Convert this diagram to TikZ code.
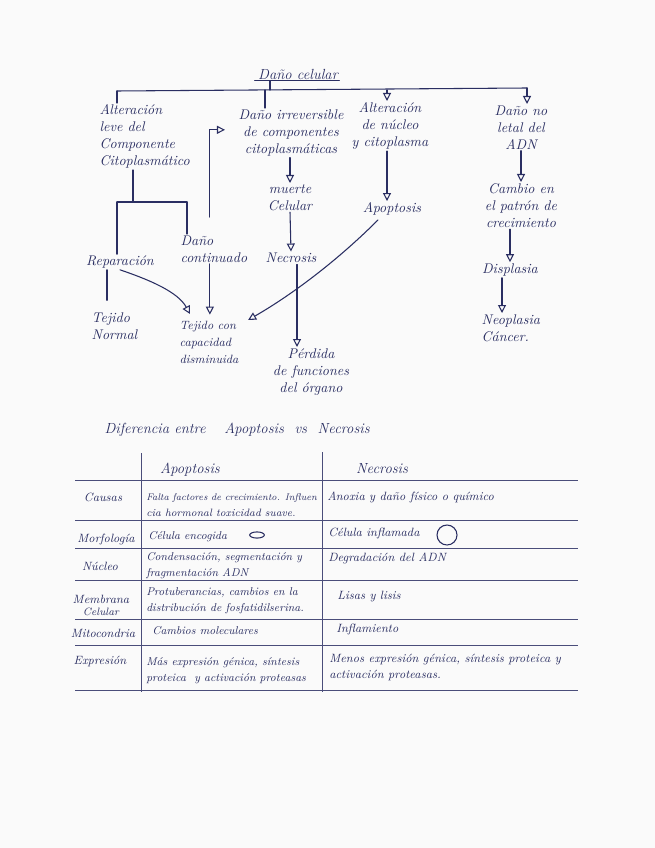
\documentclass[tikz,border=0pt]{standalone}
\usepackage{graphicx}
\usetikzlibrary{arrows.meta}
\definecolor{ink}{RGB}{42,46,98}
\definecolor{paper}{RGB}{250,250,250}
\tikzset{
  ln/.style={draw=ink, line width=0.8pt, line cap=round, line join=round},
  arr/.style={ln, -{Triangle[open, length=6pt, width=6pt, line width=0.8pt]}},
  hw/.style={text=ink, font=\itshape\fontsize{10.5}{12.75}\selectfont, inner sep=1pt, align=center},
  hwsm/.style={hw, font=\itshape\fontsize{9}{12.75}\selectfont},
  cellA/.style={text=ink, font=\itshape\fontsize{8.5}{12}\selectfont, inner sep=0pt, anchor=west, align=left},
  cellN/.style={cellA, font=\itshape\fontsize{9}{12}\selectfont},
  rowlab/.style={text=ink, font=\itshape\fontsize{9}{9}\selectfont, inner sep=0pt, align=center},
  tline/.style={draw=ink!85, line width=0.6pt},
}
\begin{document}
\begin{tikzpicture}[x=0.75pt,y=-0.75pt]
\fill[paper] (0,0) rectangle (655,848);
\useasboundingbox (0,0) rectangle (655,848);

% ---------- diagram ----------
\node[hw, font=\itshape\fontsize{11}{13}\selectfont] (title) at (298,74) {Daño celular};
\draw[ln] ([shift={(-2,0)}]title.south west) -- (title.south east);
\coordinate (stem) at (270,90);
\coordinate (bl) at (117,91);
\coordinate (br) at (527,88);
\coordinate (b2) at (265,90);
\coordinate (b3) at (387,90);
\draw[ln] (title.south -| stem) -- (stem);
\draw[ln] (bl) -- (br);

\node[hw, align=left, anchor=north west] (n1) at (98,103) {Alteración\\leve del\\Componente\\Citoplasmático};
\node[hw, anchor=north] (n2) at (291,108) {Daño irreversible\\de componentes\\citoplasmáticas};
\node[hw, anchor=north] (n3) at (390,101) {Alteración\\de núcleo\\y citoplasma};
\node[hw, anchor=north] (n4) at (521,104) {Daño no\\letal del\\ADN};
\draw[ln] (bl) -- (bl |- n1.north);
\draw[ln] (b2) -- (b2 |- n2.north);
\draw[arr] (b3) -- (b3 |- n3.north);
\draw[arr] (br) -- (br |- n4.north);

% central column
\node[hw, anchor=north] (muerte) at (290,183) {muerte\\Celular};
\node[hw] (necro) at (291,258) {Necrosis};
\node[hw, anchor=north] (perd) at (311,347) {Pérdida\\de funciones\\del órgano};
\draw[arr] (n2.south -| muerte) -- (muerte.north);
\draw[arr] (muerte.south) -- (necro.north);
\draw[arr] ([shift={(6,0)}]necro.south) -- ([shift={(6,0)}]necro.south |- perd.north);

% apoptosis column
\node[hw] (apop) at (392,209) {Apoptosis};
\draw[arr] ([shift={(-3,0)}]n3.south) -- ([shift={(-3,0)}]n3.south |- apop.north);

% right column
\node[hw, anchor=north] (cambio) at (521,182) {Cambio en\\el patrón de\\crecimiento};
\node[hw] (displ) at (510,270) {Displasia};
\node[hw, align=left, anchor=north west] (neo) at (480,313) {Neoplasia\\Cáncer.};
\draw[arr] (n4.south) -- (cambio.north);
\draw[arr] (cambio.south -| displ) -- (displ.north);
\draw[arr] ([shift={(-8,0)}]displ.south) -- ([shift={(-8,0)}]displ.south |- neo.north);

% left column
\coordinate (lj) at (133,202);
\coordinate (ll) at (117,202);
\coordinate (lr) at (187,202);
\node[hw] (rep) at (120,262) {Reparación};
\node[hw, align=left, anchor=north west] (dc) at (179,234) {Daño\\continuado};
\node[hw, align=left, anchor=north west] (tn) at (90,311) {Tejido\\Normal};
\node[hwsm, align=left, anchor=north west] (tej2) at (178,320) {Tejido con\\capacidad\\disminuida};
\draw[ln] (n1.south -| lj) -- (lj);
\draw[ln] (ll) -- (lr);
\draw[ln] (ll) -- (ll |- rep.north);
\draw[ln] (lr) -- (lr |- dc.north);
\draw[ln, shorten >=8pt] ([shift={(-13,0)}]rep.south) -- ([shift={(-13,0)}]rep.south |- tn.north);
\draw[arr] (rep.south) .. controls (150,280) and (178,292) .. ([shift={(12,-6)}]tej2.north west);
\draw[arr, shorten >=4pt] ([shift={(-4,0)}]dc.south) -- ([shift={(-4,0)}]dc.south |- tej2.north);
\draw[arr] ([shift={(-4,-17)}]dc.north) |- ([shift={(-12,-3)}]n2.west);
\draw[arr] ([shift={(-14,3)}]apop.south) .. controls (340,258) and (295,293) .. ([shift={(8,0)}]tej2.north east);

% ---------- table ----------
\node[hw, font=\itshape\fontsize{11}{13}\selectfont, anchor=west] (tt) at (103,430) {Diferencia entre\hspace{14pt}Apoptosis\hspace{8pt}vs\hspace{8pt}Necrosis};

\draw[tline] (141,453) -- (141,692);
\draw[tline] (322,452) -- (322,692);
\foreach \yy in {480,520,548,580,619,645,690}{
  \draw[tline] (75,\yy) -- (578,\yy);
}

\node[hw, font=\itshape\fontsize{11}{13}\selectfont] (hA) at (190,470) {Apoptosis};
\node[hw, font=\itshape\fontsize{11}{13}\selectfont] (hN) at (382,469) {Necrosis};

\node[rowlab] (r1) at (103,497) {Causas};
\node[cellA, font=\itshape\fontsize{8}{12}\selectfont] (a1) at (146,505) {\resizebox{128pt}{!}{Falta factores de crecimiento. Influen}\\cia hormonal toxicidad suave.};
\node[cellN] (c1) at (327,497) {Anoxia y daño físico o químico};

\node[rowlab] (r2) at (106,539) {Morfología};
\node[cellA] (a2) at (148,537) {Célula encogida};
\draw[ln] (257,535) ellipse [x radius=5.5pt, y radius=2.3pt];
\node[cellN] (c2) at (328,533) {Célula inflamada};
\draw[ln] (447,535) circle [radius=7.5pt];

\node[rowlab] (r3) at (100,566) {Núcleo};
\node[cellA] (a3) at (146,566) {Condensación, segmentación y\\fragmentación ADN};
\node[cellN] (c3) at (328,558) {Degradación del ADN};

\node[rowlab, align=center] (r4) at (101,605) {Membrana\\{\fontsize{8}{9}\selectfont Celular}};
\node[cellA] (a4) at (146,601) {Protuberancias, cambios en la\\distribución de fosfatidilserina.};
\node[cellN] (c4) at (337,597) {Lisas y lisis};

\node[rowlab] (r5) at (103,633) {Mitocondria};
\node[cellA] (a5) at (152,631) {Cambios moleculares};
\node[cellN] (c5) at (336,629) {Inflamiento};

\node[rowlab] (r6) at (100,661) {Expresión};
\node[cellA] (a6) at (146,671) {Más expresión génica, síntesis\\proteica\ \ y activación proteasas};
\node[cellN] (c6) at (329,667) {Menos expresión génica, síntesis proteica y\\activación proteasas.};
\end{tikzpicture}
\end{document}
